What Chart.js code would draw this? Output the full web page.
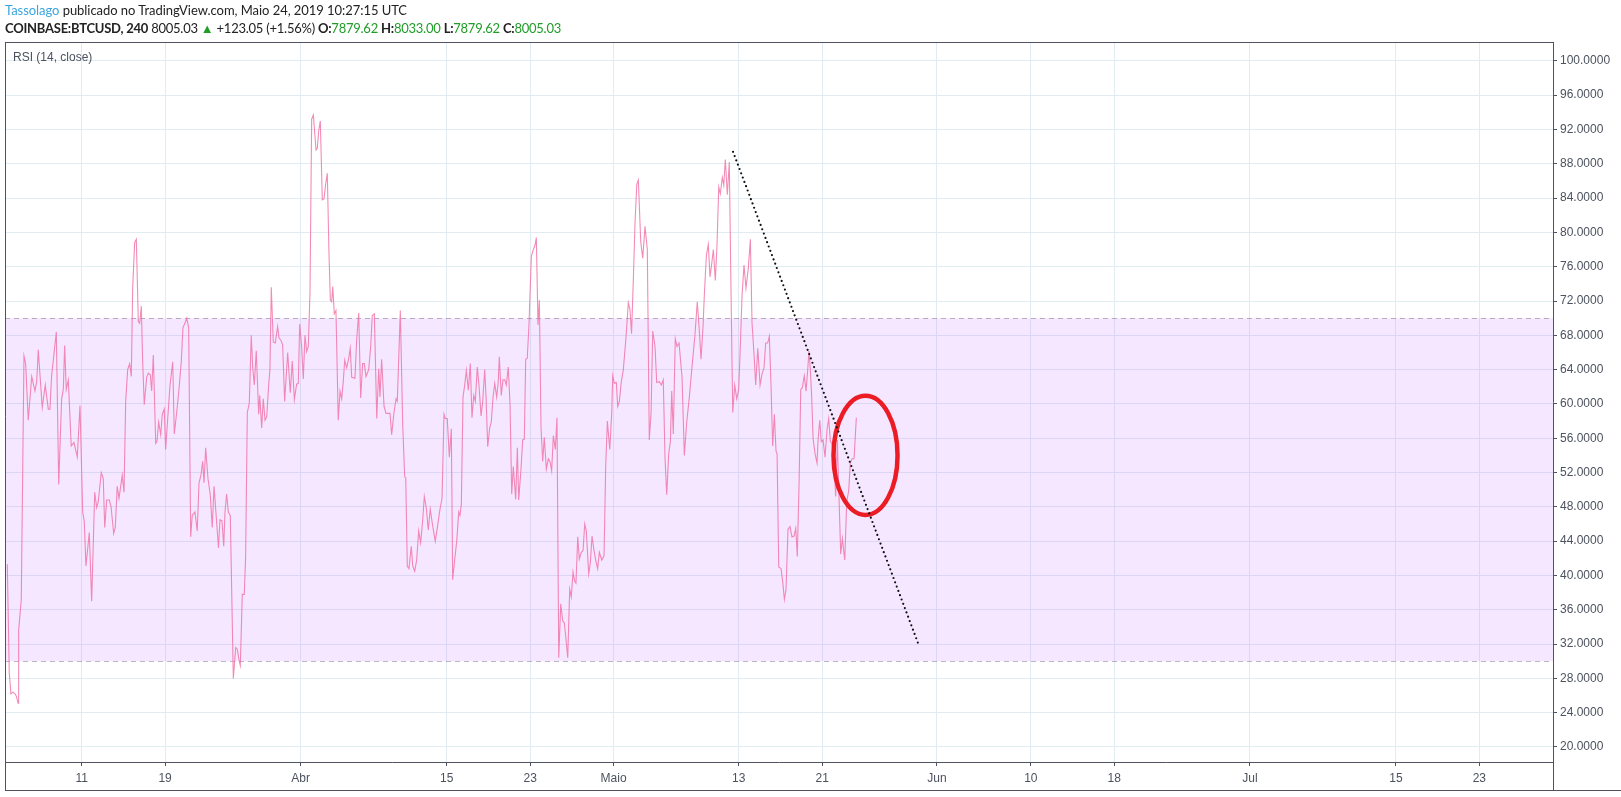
<!DOCTYPE html>
<html lang="pt">
<head>
<meta charset="utf-8">
<title>RSI (14, close) - COINBASE:BTCUSD, 240</title>
<script src="https://cdn.jsdelivr.net/npm/chart.js"></script>
<style>
    body { margin: 0; background: #fff; overflow: hidden; }
    .wrap { position: relative; width: 1621px; height: 797px; }
    .head { position: absolute; left: 5px; font-family: Lato, "Liberation Sans", sans-serif; font-size: 13px; line-height: 16px; color: #222; white-space: nowrap; }
    .line1 { top: 2px; }
    .line2 { top: 19.5px; }
    .author { color: #3ba5dd; }
    .b { font-weight: bold; }
    .up { color: #1f9d27; }
    canvas { position: absolute; left: 0; top: 0; }
</style>
</head>
<body>
<div class="wrap">
    <canvas id="chart" width="1621" height="797"></canvas>
    <div class="head line1" id="line1"><span class="author">Tassolago</span> publicado no TradingView.com, Maio 24, 2019 10:27:15 UTC</div>
    <div class="head line2" id="line2"><span class="b">COINBASE:BTCUSD, 240</span> 8005.03 <span class="up">&#9650;</span> +123.05 (+1.56%) <span class="b">O:</span><span class="up">7879.62</span> <span class="b">H:</span><span class="up">8033.00</span> <span class="b">L:</span><span class="up">7879.62</span> <span class="b">C:</span><span class="up">8005.03</span></div>
</div>
<script>
    // eixo x em dias desde 1 de marco de 2019
    var xMin = 2.65, xMax = 151.06;
    var yMin = 18.25, yMax = 102.2;

    var xTickDays = [10, 18, 31, 45, 53, 61, 73, 81, 92, 101, 109, 122, 136, 144];
    var xTickLabels = ["11", "19", "Abr", "15", "23", "Maio", "13", "21", "Jun", "10", "18", "Jul", "15", "23"];
    var yTicks = [20, 24, 28, 32, 36, 40, 44, 48, 52, 56, 60, 64, 68, 72, 76, 80, 84, 88, 92, 96, 100];

    var upperBand = 70, lowerBand = 30;

    // RSI (14, close)
    var rsiDays = [
        2.87, 3.06, 3.22, 3.41, 3.61, 3.75, 3.90, 3.96, 4.21, 4.47, 4.63, 4.88, 5.21, 5.52, 5.69, 5.84, 6.22, 6.51, 6.80, 6.96,
        7.12, 7.57, 7.80, 8.08, 8.24, 8.37, 8.52, 8.72, 9.00, 9.26, 9.58, 9.84, 10.10, 10.25, 10.41, 10.73, 10.96, 11.25, 11.44, 11.59,
        11.88, 12.07, 12.21, 12.40, 12.65, 12.81, 13.07, 13.22, 13.41, 13.58, 13.89, 14.06, 14.22, 14.41, 14.60, 14.76, 14.89, 15.08, 15.24, 15.43,
        15.56, 15.72, 15.85, 16.00, 16.23, 16.39, 16.58, 16.71, 16.87, 17.10, 17.22, 17.38, 17.58, 17.73, 17.92, 18.05, 18.21, 18.47, 18.73, 18.88,
        19.11, 19.33, 19.55, 19.71, 19.90, 20.07, 20.26, 20.45, 20.60, 20.86, 21.08, 21.25, 21.44, 21.60, 21.73, 21.89, 22.11, 22.33, 22.52, 22.69,
        22.88, 23.12, 23.26, 23.45, 23.62, 23.74, 23.90, 24.06, 24.25, 24.54, 24.77, 24.92, 25.11, 25.21, 25.40, 25.59, 25.72, 25.88, 26.07, 26.26,
        26.40, 26.55, 26.74, 26.97, 27.07, 27.26, 27.41, 27.58, 27.74, 27.93, 28.05, 28.18, 28.37, 28.56, 28.79, 28.92, 29.11, 29.27, 29.46, 29.75,
        30.00, 30.19, 30.39, 30.61, 30.77, 30.90, 31.09, 31.25, 31.41, 31.57, 31.73, 31.89, 32.05, 32.21, 32.47, 32.59, 32.72, 32.88, 33.07, 33.23,
        33.40, 33.55, 33.71, 33.84, 33.97, 34.07, 34.22, 34.38, 34.60, 34.77, 34.93, 35.08, 35.22, 35.41, 35.60, 35.75, 35.89, 36.20, 36.37, 36.56,
        36.75, 36.94, 37.10, 37.26, 37.52, 37.71, 37.86, 38.06, 38.29, 38.48, 38.60, 38.76, 38.99, 39.18, 39.56, 39.72, 39.94, 40.14, 40.26, 40.55,
        40.78, 40.97, 41.07, 41.22, 41.38, 41.60, 41.74, 41.93, 42.12, 42.31, 42.50, 42.70, 42.85, 43.04, 43.23, 43.42, 43.65, 43.90, 44.10, 44.35,
        44.55, 44.74, 44.86, 45.05, 45.25, 45.44, 45.57, 45.76, 45.96, 46.15, 46.27, 46.40, 46.56, 46.72, 46.88, 47.07, 47.26, 47.42, 47.59, 47.74,
        47.93, 48.09, 48.29, 48.45, 48.64, 48.77, 48.93, 49.12, 49.27, 49.44, 49.60, 49.79, 49.94, 50.04, 50.23, 50.39, 50.56, 50.71, 50.90, 51.07,
        51.23, 51.38, 51.61, 51.77, 51.90, 52.12, 52.28, 52.44, 52.57, 52.72, 52.89, 53.11, 53.30, 53.46, 53.59, 53.75, 53.88, 54.04, 54.20, 54.35,
        54.55, 54.74, 54.90, 55.06, 55.22, 55.41, 55.57, 55.74, 55.93, 56.12, 56.27, 56.44, 56.60, 56.79, 56.94, 57.11, 57.27, 57.39, 57.56, 57.71,
        57.90, 58.07, 58.23, 58.38, 58.61, 58.77, 58.93, 59.12, 59.28, 59.47, 59.63, 59.86, 60.08, 60.24, 60.40, 60.63, 60.82, 60.91, 61.07, 61.26,
        61.39, 61.55, 61.74, 61.93, 62.19, 62.41, 62.57, 62.72, 62.89, 63.05, 63.22, 63.37, 63.60, 63.79, 64.01, 64.23, 64.42, 64.59, 64.75, 64.97,
        65.13, 65.38, 65.57, 65.76, 65.93, 66.09, 66.28, 66.44, 66.57, 66.72, 66.91, 67.08, 67.27, 67.56, 67.78, 68.01, 68.26, 68.49, 68.80, 69.02,
        69.22, 69.38, 69.57, 69.70, 69.89, 70.08, 70.24, 70.41, 70.56, 70.75, 70.91, 71.08, 71.23, 71.42, 71.56, 71.71, 71.90, 72.09, 72.26, 72.42,
        72.61, 72.80, 72.99, 73.12, 73.31, 73.50, 73.69, 73.91, 74.11, 74.27, 74.46, 74.62, 74.82, 75.04, 75.23, 75.42, 75.58, 75.77, 75.93, 76.09,
        76.25, 76.41, 76.57, 76.67, 76.83, 77.05, 77.21, 77.37, 77.53, 77.72, 77.91, 78.10, 78.30, 78.46, 78.61, 78.78, 78.94, 79.09, 79.28, 79.45,
        79.61, 79.73, 79.86, 79.99, 80.12, 80.31, 80.50, 80.60, 80.76, 80.91, 81.08, 81.27, 81.46, 81.62, 81.78, 81.94, 82.13, 82.29, 82.45, 82.61,
        82.77, 82.93, 83.16, 83.35, 83.54, 83.69, 83.86, 84.05, 84.27
    ];
    var rsiValues = [
        41.3, 28.6, 26.2, 26.4, 26.2, 25.9, 25.1, 33.6, 37.2, 65.6, 64.7, 58.1, 63.2, 61.5, 62.6, 66.3, 59.6, 62.2, 59.4, 59.4,
        63.3, 68.4, 50.6, 60.6, 61.7, 66.8, 61.7, 62.8, 55.1, 55.5, 53.8, 59.8, 47.4, 46.3, 41.1, 45.0, 37.0, 49.7, 47.9, 48.6,
        52.0, 51.3, 45.6, 48.8, 48.8, 48.1, 44.9, 45.6, 50.4, 49.0, 51.7, 49.7, 60.3, 64.0, 64.7, 63.2, 73.5, 78.8, 79.2, 69.6,
        69.4, 71.4, 64.9, 59.9, 63.1, 63.6, 63.4, 61.5, 65.7, 55.4, 55.6, 57.9, 56.4, 58.8, 59.4, 54.7, 57.6, 62.2, 64.9, 56.5,
        59.0, 61.7, 64.9, 68.9, 69.4, 70.0, 68.9, 44.5, 47.0, 47.4, 45.2, 50.8, 51.7, 53.3, 50.8, 54.9, 51.3, 49.4, 45.6, 50.4,
        47.2, 43.2, 46.5, 46.4, 43.4, 47.4, 49.5, 47.4, 47.0, 28.0, 31.6, 31.4, 30.0, 29.5, 37.8, 37.8, 42.2, 59.0, 60.1, 68.0,
        64.2, 62.2, 66.2, 58.8, 61.0, 57.2, 60.6, 58.1, 58.5, 62.2, 64.0, 73.6, 67.2, 67.1, 69.0, 67.7, 67.4, 66.9, 60.3, 66.0,
        61.3, 65.0, 60.5, 62.3, 62.4, 69.3, 66.7, 62.9, 68.0, 66.1, 66.7, 73.0, 93.2, 93.7, 89.6, 89.8, 91.8, 93.0, 83.8, 83.9,
        85.7, 86.9, 77.6, 72.1, 71.9, 73.7, 70.5, 70.9, 58.1, 61.5, 60.6, 62.6, 65.1, 64.2, 65.3, 66.5, 63.1, 63.0, 67.6, 70.6,
        60.7, 64.7, 64.7, 63.2, 64.0, 66.7, 70.3, 70.5, 58.3, 64.1, 60.8, 65.2, 59.7, 58.9, 58.9, 56.4, 59.0, 60.6, 60.3, 70.9,
        57.6, 51.5, 51.4, 41.1, 40.8, 43.4, 41.1, 40.5, 41.8, 45.2, 43.8, 46.5, 49.2, 47.9, 45.3, 47.7, 45.8, 44.0, 45.6, 47.7,
        49.0, 58.8, 58.3, 58.3, 53.8, 57.1, 39.5, 41.8, 44.0, 47.4, 47.0, 48.3, 60.8, 62.2, 63.9, 61.6, 64.7, 58.4, 61.0, 60.3,
        64.3, 62.2, 58.6, 60.3, 64.0, 60.8, 55.0, 57.2, 57.9, 60.8, 62.4, 60.8, 62.6, 65.5, 61.0, 62.8, 62.8, 62.2, 64.3, 59.9,
        49.5, 52.7, 48.9, 54.9, 48.8, 52.4, 55.8, 55.9, 65.2, 65.3, 69.4, 77.2, 78.0, 78.5, 79.4, 69.2, 72.1, 57.2, 53.3, 56.1,
        52.4, 53.6, 53.3, 52.2, 56.3, 54.7, 58.4, 30.4, 36.7, 34.7, 34.5, 32.5, 30.4, 38.4, 37.5, 40.4, 39.3, 39.1, 44.5, 41.9,
        42.7, 42.9, 46.0, 45.2, 40.2, 41.5, 44.6, 42.9, 41.8, 40.8, 42.7, 41.8, 42.3, 52.7, 58.0, 54.7, 59.0, 63.3, 62.4, 62.5,
        59.7, 60.3, 62.6, 64.0, 67.8, 71.8, 71.0, 68.2, 74.5, 81.1, 85.6, 86.1, 78.9, 77.0, 80.7, 78.0, 55.8, 59.0, 68.5, 66.7,
        62.5, 62.6, 62.2, 62.8, 53.6, 49.4, 54.2, 55.6, 61.5, 56.5, 67.6, 66.7, 67.1, 63.1, 54.0, 57.9, 60.8, 64.0, 68.1, 71.9,
        68.5, 65.2, 69.0, 72.8, 77.3, 78.6, 74.8, 76.4, 78.0, 74.4, 78.5, 85.3, 84.5, 86.4, 85.5, 88.5, 84.4, 88.2, 72.6, 59.0,
        62.2, 60.6, 61.7, 65.8, 72.6, 76.2, 73.5, 75.8, 79.2, 69.4, 65.8, 62.2, 66.5, 62.2, 63.5, 64.2, 67.1, 67.1, 67.9, 62.2,
        55.1, 58.8, 54.5, 54.2, 41.0, 40.8, 39.3, 37.2, 38.4, 45.4, 45.7, 44.5, 44.6, 45.5, 42.2, 50.8, 61.7, 61.9, 63.3, 61.5,
        64.0, 66.2, 64.0, 60.8, 56.0, 54.2, 53.1, 55.8, 58.1, 55.6, 55.8, 53.8, 57.0, 58.3, 55.6, 55.4, 53.1, 49.2, 55.8, 49.0,
        42.5, 44.3, 41.8, 48.6, 49.9, 53.1, 53.6, 53.6, 58.4
    ];

    // linha de tendencia pontilhada e o circulo vermelho desenhados a mao
    var trendDays = [72.45, 90.28];
    var trendValues = [89.4, 31.8];
    var circleDay = 85.15, circleValue = 54.0;
    var circleHalfDays = 3.07, circleHalfValue = 6.94;

    var rsiPoints = rsiDays.map(function(d, i) { return { x: d, y: rsiValues[i] }; });
    var trendPoints = trendDays.map(function(d, i) { return { x: d, y: trendValues[i] }; });

    var axisColor = "#50535e";
    var gridColor = "#e1ecf2";
    var textColor = "#4c525e";

    // ajusta o espacamento do cabecalho para a largura do original
    function fitLine(id, right) {
        var el = document.getElementById(id);
        var w = el.getBoundingClientRect().width;
        var n = el.textContent.length;
        el.style.letterSpacing = ((right - 5 - w) / n) + "px";
    }
    fitLine("line1", 407);
    fitLine("line2", 561);

    // faixa 30-70 e linhas tracejadas
    var bandPlugin = {
        id: "band",
        beforeDatasetsDraw: function(chart) {
            var ctx = chart.ctx, area = chart.chartArea, y = chart.scales.y;
            var top = y.getPixelForValue(upperBand), bottom = y.getPixelForValue(lowerBand);
            ctx.save();
            ctx.fillStyle = "rgba(153, 21, 255, 0.1)";
            ctx.fillRect(area.left, top, area.right - area.left, bottom - top);
            ctx.strokeStyle = "rgba(120, 110, 135, 0.5)";
            ctx.lineWidth = 1;
            ctx.setLineDash([5, 4]);
            [top, bottom].forEach(function(py) {
                py = Math.round(py) + 0.5;
                ctx.beginPath();
                ctx.moveTo(area.left, py);
                ctx.lineTo(area.right, py);
                ctx.stroke();
            });
            ctx.restore();

            ctx.save();
            ctx.fillStyle = textColor;
            ctx.font = "12px 'Liberation Sans', Arial, sans-serif";
            ctx.textBaseline = "middle";
            ctx.fillText("RSI (14, close)", area.left + 8, area.top + 16);
            ctx.restore();
        },
        afterDatasetDraw: function(chart, args) {
            if (args.index !== 0) return;
            var ctx = chart.ctx, x = chart.scales.x, y = chart.scales.y;
            var cx = x.getPixelForValue(circleDay), cy = y.getPixelForValue(circleValue);
            var rx = x.getPixelForValue(circleDay + circleHalfDays) - cx;
            var ry = cy - y.getPixelForValue(circleValue + circleHalfValue);
            ctx.save();
            ctx.strokeStyle = "#ec1c24";
            ctx.lineWidth = 4.5;
            ctx.beginPath();
            ctx.ellipse(cx, cy, rx, ry, 0, 0, Math.PI * 2);
            ctx.stroke();
            ctx.restore();
        },
        afterDraw: function(chart) {
            var ctx = chart.ctx, area = chart.chartArea;
            var bottom = chart.height - 7 + 0.5;
            ctx.save();
            ctx.strokeStyle = axisColor;
            ctx.lineWidth = 1;
            ctx.beginPath();
            ctx.moveTo(area.left + 0.5, area.top);
            ctx.lineTo(area.left + 0.5, bottom);
            ctx.moveTo(area.left, area.top + 0.5);
            ctx.lineTo(area.right, area.top + 0.5);
            ctx.moveTo(area.left, bottom);
            ctx.lineTo(chart.width, bottom);
            ctx.moveTo(Math.round(area.right) + 0.5, area.bottom);
            ctx.lineTo(Math.round(area.right) + 0.5, bottom);
            ctx.stroke();
            ctx.restore();
        }
    };

    var chart = new Chart(document.getElementById("chart"), {
        type: "line",
        data: {
            datasets: [
                {
                    label: "RSI",
                    data: rsiPoints,
                    borderColor: "rgba(240, 110, 165, 0.8)",
                    borderWidth: 1.1,
                    pointRadius: 0,
                    tension: 0,
                    order: 1
                },
                {
                    label: "tendencia",
                    data: trendPoints,
                    borderColor: "#111",
                    borderWidth: 2.2,
                    borderDash: [0, 4.6],
                    borderCapStyle: "round",
                    pointRadius: 0,
                    order: 0
                }
            ]
        },
        options: {
            responsive: false,
            animation: false,
            layout: { padding: { left: 5, top: 42, right: 0, bottom: 7 } },
            plugins: { legend: { display: false }, tooltip: { enabled: false } },
            scales: {
                x: {
                    type: "linear",
                    position: "bottom",
                    min: xMin,
                    max: xMax,
                    afterBuildTicks: function(scale) {
                        scale.ticks = xTickDays.map(function(d) { return { value: d }; });
                    },
                    afterFit: function(scale) { scale.height = 28; },
                    ticks: {
                        autoSkip: false,
                        maxRotation: 0,
                        padding: 5,
                        color: textColor,
                        font: { family: "'Liberation Sans', Arial, sans-serif", size: 12 },
                        callback: function(value, index) { return xTickLabels[index]; }
                    },
                    grid: { color: gridColor, tickColor: axisColor, tickLength: 4 },
                    border: { color: axisColor, width: 1 }
                },
                y: {
                    position: "right",
                    min: yMin,
                    max: yMax,
                    afterBuildTicks: function(scale) {
                        scale.ticks = yTicks.map(function(v) { return { value: v }; });
                    },
                    afterFit: function(scale) { scale.width = 68; },
                    ticks: {
                        padding: 3,
                        color: textColor,
                        font: { family: "'Liberation Sans', Arial, sans-serif", size: 12 },
                        callback: function(value) { return value.toFixed(4); }
                    },
                    grid: { color: gridColor, tickColor: axisColor, tickLength: 4 },
                    border: { color: axisColor, width: 1 }
                }
            }
        },
        plugins: [bandPlugin]
    });
</script>
</body>
</html>
